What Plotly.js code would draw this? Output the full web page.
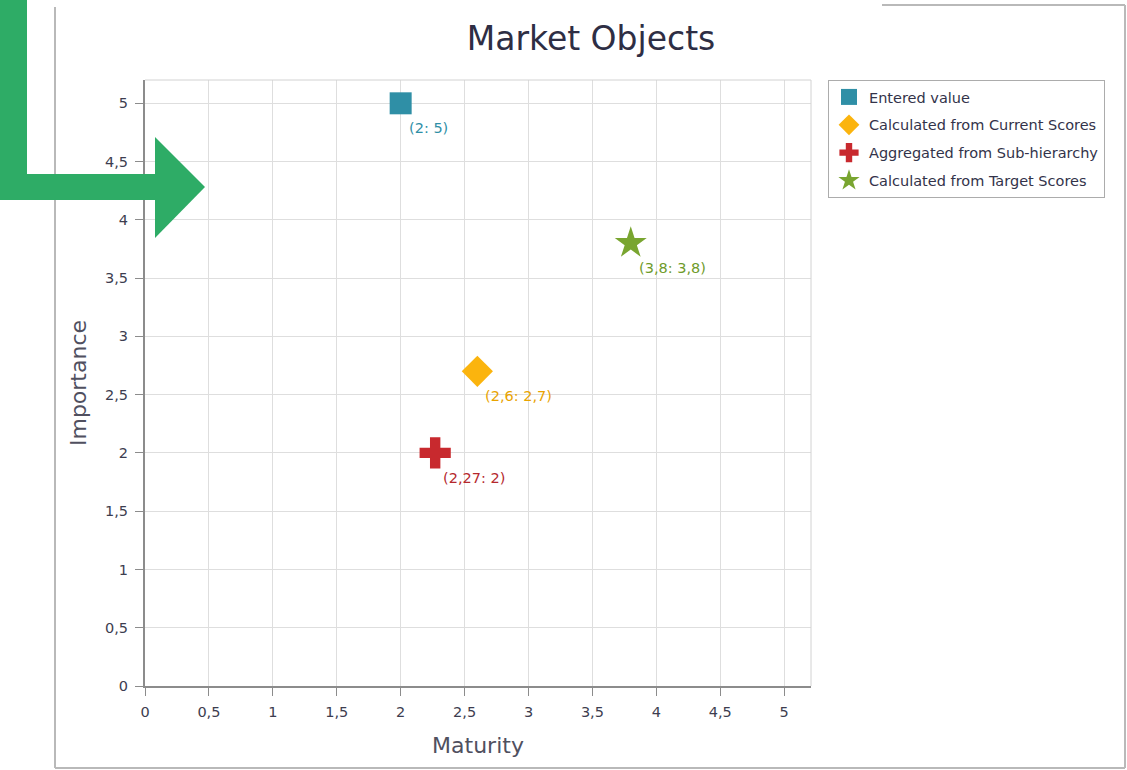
<!DOCTYPE html>
<html>
<head>
<meta charset="utf-8">
<script src="https://cdn.plot.ly/plotly-3.0.1.min.js"></script>
<style>html,body{margin:0;padding:0;background:#fff;}#chart{width:1127px;height:770px;}</style>
</head>
<body>
<div id="chart"></div>
<script>
// ---- data ----
const seriesNames = ["Entered value", "Calculated from Current Scores", "Aggregated from Sub-hierarchy", "Calculated from Target Scores"];
const maturity = [2, 2.6, 2.27, 3.8];
const importance = [5, 2.7, 2, 3.8];
const pointLabels = ["(2: 5)", "(2,6: 2,7)", "(2,27: 2)", "(3,8: 3,8)"];
const tickVals = [0, 0.5, 1, 1.5, 2, 2.5, 3, 3.5, 4, 4.5, 5];
const tickText = ["0", "0,5", "1", "1,5", "2", "2,5", "3", "3,5", "4", "4,5", "5"];

// ---- styles ----
const symbols = ["square", "diamond", "cross", "star"];
const sizes = [22, 24, 26, 24];
const colors = ["#2f8fa6", "#fbb40e", "#c8292e", "#79a530"];
const textColors = ["#2f8fa6", "#e9a300", "#b5282d", "#6f9b2a"];
const FONT = "DejaVu Sans, Verdana, sans-serif";

const traces = seriesNames.map((name, i) => ({
  type: "scatter",
  mode: "markers",
  name: name,
  legendgroup: "g" + i,
  x: [maturity[i]],
  y: [importance[i]],
  marker: {symbol: symbols[i], size: sizes[i], color: colors[i], line: {width: 0}},
  cliponaxis: false,
  hoverinfo: "skip"
}));

const annotations = pointLabels.map((t, i) => ({
  x: maturity[i], y: importance[i], xref: "x", yref: "y",
  text: t, showarrow: false,
  xanchor: "left", yanchor: "middle",
  xshift: 6, yshift: -25,
  font: {family: FONT, size: 14.5, color: textColors[i]}
}));

// plot area in pixels
const W = 1127, H = 770, L = 145, R = 811, T = 80, B = 686;
function px(x) { return (x - L) / (R - L); }
function py(y) { return (B - y) / (B - T); }
function path(pts) {
  return "M" + pts.map(p => px(p[0]).toFixed(5) + "," + py(p[1]).toFixed(5)).join(" L") + " Z";
}
function pline(x0, y0, x1, y1, color, width) {
  return {type: "line", xref: "paper", yref: "paper", x0: px(x0), y0: py(y0), x1: px(x1), y1: py(y1),
          line: {color: color, width: width}, layer: "above"};
}
function prect(x0, y0, x1, y1, color) {
  return {type: "rect", xref: "paper", yref: "paper", x0: px(x0), y0: py(y0), x1: px(x1), y1: py(y1),
          fillcolor: color, line: {width: 0}, layer: "above"};
}

const GREEN = "#2eac66";
const shapes = [
  // frame
  pline(55, 7, 55, 768, "#b9b9b9", 2),
  pline(55, 768, 1125, 768, "#b9b9b9", 2),
  pline(1125, 5, 1125, 768, "#b9b9b9", 2),
  pline(882, 5, 1125, 5, "#b9b9b9", 2),
  // plot border top/right
  pline(L, T, R, T, "#d2d2d2", 1),
  pline(R, T, R, B, "#d2d2d2", 1),
  // green arrow
  prect(0, 0, 27, 200, GREEN),
  prect(0, 174, 156, 200, GREEN),
  {type: "path", xref: "paper", yref: "paper", path: path([[155,137],[205,187],[155,238]]),
   fillcolor: GREEN, line: {width: 0}, layer: "above"}
];

const axisCommon = {
  tickmode: "array",
  tickvals: tickVals,
  ticktext: tickText,
  showgrid: true,
  gridcolor: "#dedede",
  gridwidth: 1,
  zeroline: false,
  showline: true,
  linecolor: "#8c8c8c",
  linewidth: 2,
  ticks: "outside",
  ticklen: 8,
  tickwidth: 1,
  tickcolor: "#8c8c8c",
  tickfont: {family: FONT, size: 14.5, color: "#3d3d4f"},
  fixedrange: true
};

const layout = {
  width: W, height: H,
  margin: {l: L, r: W - R, t: T, b: H - B},
  paper_bgcolor: "#ffffff",
  plot_bgcolor: "#ffffff",
  separators: ", ",
  font: {family: FONT, color: "#3d3d4f"},
  title: {text: "Market Objects", x: 591 / W, xanchor: "center", y: 1 - 38 / H, yanchor: "middle",
          xref: "container", yref: "container", font: {family: FONT, size: 33, color: "#2e2e44"}},
  xaxis: Object.assign({}, axisCommon, {
    range: [0, 5.21],
    ticklabelstandoff: 4,
    title: {text: "Maturity", standoff: 18, font: {family: FONT, size: 22, color: "#50505f"}}
  }),
  yaxis: Object.assign({}, axisCommon, {
    range: [0, 5.2],
    ticklabelstandoff: 4,
    title: {text: "Importance", standoff: 12, font: {family: FONT, size: 22, color: "#50505f"}}
  }),
  legend: {
    x: px(828), y: 1, xanchor: "left", yanchor: "top",
    bgcolor: "#ffffff", bordercolor: "#acacac", borderwidth: 1,
    font: {family: FONT, size: 14.5, color: "#33334a"},
    tracegroupgap: 6,
    itemsizing: "trace"
  },
  annotations: annotations,
  shapes: shapes,
  showlegend: true
};

Plotly.newPlot("chart", traces, layout, {displayModeBar: false, staticPlot: true});
</script>
</body>
</html>
